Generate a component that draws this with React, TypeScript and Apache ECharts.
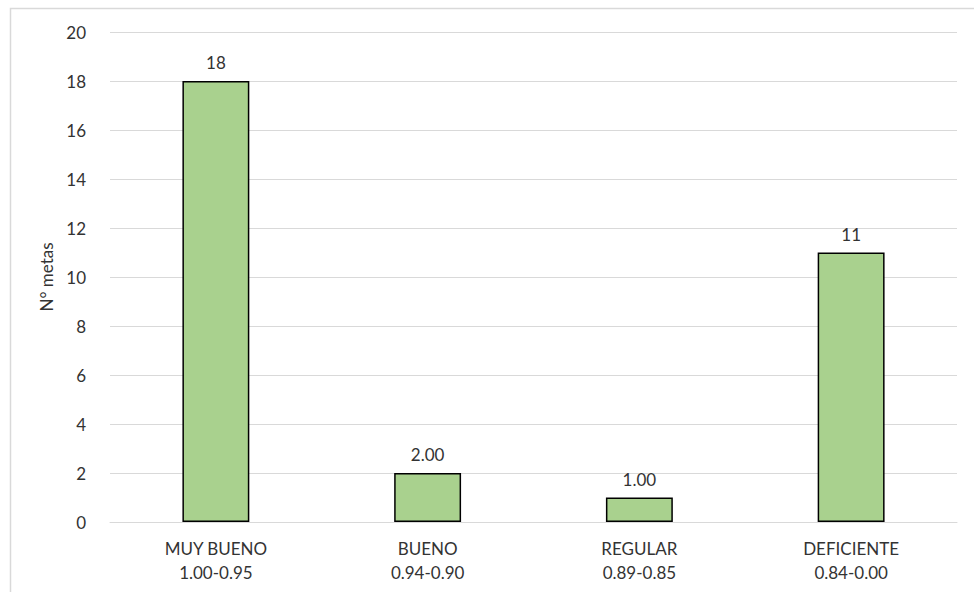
import React, { useEffect, useRef } from "react";
import * as echarts from "echarts";

// Rating bands and their ranges (two-line axis labels)
const categories = ["MUY BUENO", "BUENO", "REGULAR", "DEFICIENTE"];
const ranges = ["1.00-0.95", "0.94-0.90", "0.89-0.85", "0.84-0.00"];
// Number of goals in each band
const counts = [18, 2, 1, 11];
// Value labels as printed above each bar
const valueLabels = ["18", "2.00", "1.00", "11"];

const FONT = "Lato, 'Open Sans', sans-serif";
const TEXT = "#333333";

export default function App() {
  const ref = useRef<HTMLDivElement>(null);

  useEffect(() => {
    if (!ref.current) return;
    const chart = echarts.init(ref.current, undefined, { renderer: "svg" });
    chart.setOption({
      animation: false,
      backgroundColor: "#ffffff",
      textStyle: { fontFamily: FONT },
      graphic: [
        {
          type: "rect",
          shape: { x: 10.5, y: 8.5, width: 1000, height: 1000 },
          style: { fill: "none", stroke: "#d9d9d9", lineWidth: 1.5 },
          silent: true,
          z: -1,
        },
      ],
      grid: { left: 110, right: 17, top: 32, bottom: 70 },
      xAxis: {
        type: "category",
        data: categories.map((c, i) => `${c}\n${ranges[i]}`),
        axisLine: { lineStyle: { color: "#d9d9d9", width: 1 } },
        axisTick: { show: false },
        axisLabel: {
          color: TEXT,
          fontFamily: FONT,
          fontSize: 17,
          lineHeight: 24,
          margin: 14,
          interval: 0,
        },
      },
      yAxis: {
        type: "value",
        min: 0,
        max: 20,
        interval: 2,
        name: "N° metas",
        nameLocation: "middle",
        nameGap: 53,
        nameRotate: 90,
        nameTextStyle: { color: TEXT, fontFamily: FONT, fontSize: 17 },
        axisLine: { show: false },
        axisTick: { show: false },
        axisLabel: { color: TEXT, fontFamily: FONT, fontSize: 17, margin: 24 },
        splitLine: { lineStyle: { color: "#d9d9d9", width: 1 } },
      },
      series: [
        {
          type: "bar",
          data: counts,
          barWidth: "31.6%",
          itemStyle: { color: "#A9D18E", borderColor: "#000000", borderWidth: 1.5 },
          label: {
            show: true,
            position: "top",
            distance: 10,
            color: TEXT,
            fontFamily: FONT,
            fontSize: 17,
            formatter: (p: any) => valueLabels[p.dataIndex],
          },
        },
      ],
    });
    return () => chart.dispose();
  }, []);

  return (
    <div
      ref={ref}
      style={{ position: "fixed", left: 0, top: 0, width: 974, height: 592 }}
    />
  );
}
